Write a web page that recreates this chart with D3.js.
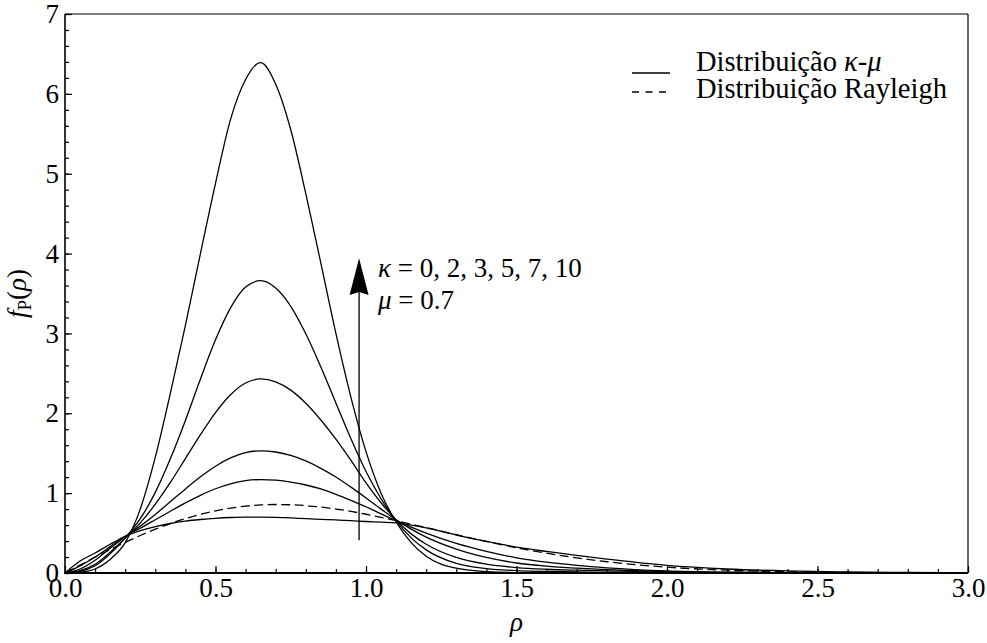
<!DOCTYPE html>
<html><head><meta charset="utf-8">
<script src="https://cdn.jsdelivr.net/npm/d3@7"></script>
<style>
body{margin:0;background:#fff}
svg{display:block}
svg text{font-family:"Liberation Serif","DejaVu Serif","Times New Roman",Times,serif !important;fill:#000}
</style>
</head><body>
<svg id="c" width="987" height="643"></svg>
<script>
// ---- data ----
const rho = [0,0.05,0.1,0.15,0.2,0.25,0.3,0.35,0.4,0.45,0.5,0.55,0.6,0.65,0.7,0.75,0.8,0.85,0.9,0.95,1.0,1.05,1.1,1.15,1.2,1.3,1.4,1.5,1.6,1.7,1.8,2.0,2.2,2.4,2.6,2.8,3.0];
const kappa0  = [0,.15,.25,.36,.46,.53,.58,.62,.65,.67,.685,.695,.70,.70,.697,.69,.68,.672,.664,.655,.645,.637,.628,.60,.565,.475,.395,.325,.27,.22,.175,.095,.05,.026,.013,.006,.003];
const kappa2  = [0,.09,.2,.33,.46,.561,.667,.774,.878,.973,1.055,1.117,1.157,1.17,1.162,1.139,1.102,1.052,.985,.91,.83,.74,.655,.575,.50,.37,.27,.19,.135,.095,.065,.027,.011,.004,.0015,0,0];
const kappa3  = [0,.05,.16,.31,.455,.587,.734,.892,1.052,1.204,1.337,1.441,1.507,1.53,1.515,1.472,1.403,1.311,1.202,1.075,.94,.80,.665,.55,.45,.30,.195,.125,.085,.06,.042,.018,.007,.003,.001,0,0];
const kappa5  = [0,.03,.11,.26,.437,.627,.862,1.134,1.432,1.732,2.009,2.233,2.379,2.43,2.394,2.29,2.126,1.916,1.676,1.41,1.13,.88,.665,.49,.36,.195,.11,.068,.047,.035,.026,.012,.005,.002,0,0,0];
const kappa7  = [0,.02,.09,.24,.44,.68,1.01,1.43,1.91,2.43,2.92,3.32,3.58,3.66,3.569,3.34,2.995,2.58,2.13,1.68,1.27,.93,.655,.44,.29,.12,.055,.03,.019,.013,.009,.004,.0015,0,0,0,0];
const kappa10 = [0,.01,.05,.17,.38,.8,1.45,2.25,3.1,4.0,4.88,5.68,6.18,6.39,6.12,5.55,4.75,3.88,3.0,2.2,1.52,1.0,.64,.38,.21,.06,.016,.005,.002,0,0,0,0,0,0,0,0];
const rayleigh = [0,.0998,.198,.2933,.3843,.4697,.5483,.6191,.6817,.7353,.7788,.8125,.8372,.8521,.8578,.8546,.8437,.8254,.8007,.7715,.7358,.6966,.6548,.6111,.5685,.4794,.3953,.3162,.2478,.1895,.1408,.0733,.0348,.0151,.0060,.0022,.0007];
const kappaSeries = [kappa0, kappa2, kappa3, kappa5, kappa7, kappa10];
const xTicks = [0,0.5,1,1.5,2,2.5,3];
const yTicks = [0,1,2,3,4,5,6,7];
const legendLabels = ["Distribuição ", "Distribuição Rayleigh"];
const annKappa = "0, 2, 3, 5, 7, 10";
const annMu = "0.7";

// ---- layout ----
const FONT = '"Liberation Serif","DejaVu Serif","Times New Roman",Times,serif';
const svg = d3.select("#c");
const L = 65, R = 968, T = 14, B = 573;
const FS = 27;
const x = d3.scaleLinear().domain([0,3]).range([L,R]);
const y = d3.scaleLinear().domain([0,7]).range([B,T]);

svg.append("defs").append("clipPath").attr("id","clip")
  .append("rect").attr("x",L).attr("y",T).attr("width",R-L).attr("height",B-T);

const line = d3.line().x((d,i)=>x(rho[i])).y(d=>y(d)).curve(d3.curveMonotoneX);
const g = svg.append("g").attr("clip-path","url(#clip)");
kappaSeries.forEach(s=>{
  g.append("path").attr("d",line(s)).attr("fill","none").attr("stroke","#000").attr("stroke-width",1.3);
});
g.append("path").attr("d",line(rayleigh)).attr("fill","none").attr("stroke","#000")
  .attr("stroke-width",1.3).attr("stroke-dasharray","9,4.5");

// axes
function styleAxis(sel){
  sel.attr("font-family",FONT).attr("font-size",FS);
  sel.select(".domain").remove();
  sel.selectAll("line").attr("stroke","#000").attr("stroke-width",1.2);
  sel.selectAll("text").attr("font-family",FONT).style("font-size",FS+"px");
}
const minorX = d3.range(0,31).map(i=>i/10);
const minorY = d3.range(0,36).map(i=>i/5);
svg.append("g").attr("transform",`translate(0,${B})`)
  .call(d3.axisBottom(x).tickValues(minorX).tickSizeInner(-4).tickSizeOuter(0).tickFormat(""))
  .call(styleAxis);
svg.append("g").attr("transform",`translate(0,${B})`)
  .call(d3.axisBottom(x).tickValues(xTicks).tickSizeInner(-7).tickSizeOuter(0).tickPadding(5).tickFormat(d3.format(".1f")))
  .call(styleAxis);
svg.append("g").attr("transform",`translate(${L},0)`)
  .call(d3.axisLeft(y).tickValues(minorY).tickSizeInner(-4).tickSizeOuter(0).tickFormat(""))
  .call(styleAxis);
svg.append("g").attr("transform",`translate(${L},0)`)
  .call(d3.axisLeft(y).tickValues(yTicks).tickSizeInner(-7).tickSizeOuter(0).tickPadding(6).tickFormat(d3.format("d")))
  .call(styleAxis);

// frame
svg.append("line").attr("x1",L).attr("x2",R).attr("y1",T).attr("y2",T).attr("stroke","#000").attr("stroke-width",1.2);
svg.append("line").attr("x1",R).attr("x2",R).attr("y1",T).attr("y2",B).attr("stroke","#000").attr("stroke-width",1.2);
svg.append("line").attr("x1",L).attr("x2",L).attr("y1",T).attr("y2",B+1).attr("stroke","#000").attr("stroke-width",1.6);
svg.append("line").attr("x1",L-1).attr("x2",R).attr("y1",B).attr("y2",B).attr("stroke","#000").attr("stroke-width",2);

// axis titles
svg.append("text").attr("x",(L+R)/2).attr("y",631).attr("text-anchor","middle")
  .style("font-size",FS+"px").style("font-style","italic").text("ρ");
const yt = svg.append("text").attr("transform",`translate(26,${(T+B)/2}) rotate(-90)`)
  .attr("text-anchor","middle").style("font-size",FS+"px");
yt.append("tspan").style("font-style","italic").text("f");
yt.append("tspan").attr("dy",5).style("font-size","19px").text("P");
yt.append("tspan").attr("dy",-5).text("(");
yt.append("tspan").style("font-style","italic").text("ρ");
yt.append("tspan").text(")");

// annotation arrow
const ax = x(0.977);
svg.append("line").attr("x1",ax).attr("x2",ax).attr("y1",y(0.41)).attr("y2",y(3.55))
  .attr("stroke","#000").attr("stroke-width",1.3);
const tipY = y(3.94), baseY = y(3.48);
svg.append("path").attr("d",`M${ax},${tipY} L${ax-9.5},${baseY} L${ax},${baseY-3} L${ax+9.5},${baseY} Z`).attr("fill","#000");
const t1 = svg.append("text").attr("x",378).attr("y",277).style("font-size",FS+"px");
t1.append("tspan").style("font-style","italic").text("κ");
t1.append("tspan").text(" = " + annKappa);
const t2 = svg.append("text").attr("x",378).attr("y",309).style("font-size",FS+"px");
t2.append("tspan").style("font-style","italic").text("μ");
t2.append("tspan").text(" = " + annMu);

// legend
const LFS = 28.5;
svg.append("line").attr("x1",632).attr("x2",670).attr("y1",73).attr("y2",73).attr("stroke","#000").attr("stroke-width",1.3);
svg.append("line").attr("x1",632).attr("x2",666).attr("y1",92).attr("y2",92).attr("stroke","#000").attr("stroke-width",1.3).attr("stroke-dasharray","7,6.5");
const l1 = svg.append("text").attr("x",696).attr("y",71).style("font-size",LFS+"px");
l1.append("tspan").text(legendLabels[0]);
l1.append("tspan").style("font-style","italic").text("κ-μ");
svg.append("text").attr("x",696).attr("y",98).style("font-size",LFS+"px").text(legendLabels[1]);
</script>
</body></html>
